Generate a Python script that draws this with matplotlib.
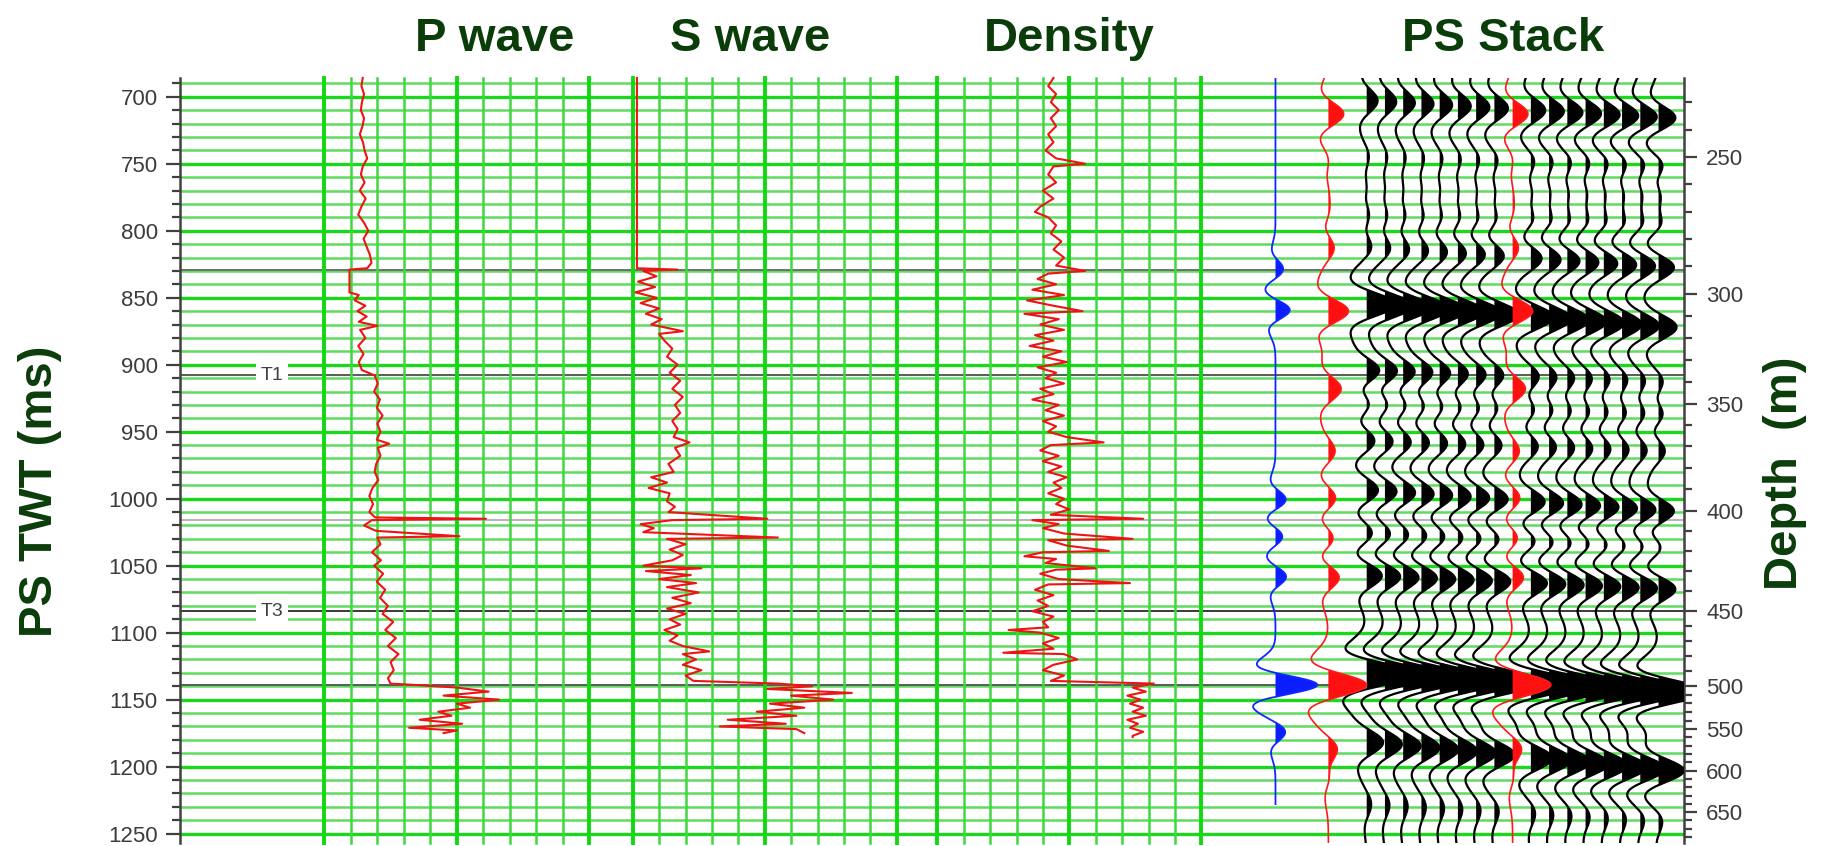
import numpy as np
import matplotlib.pyplot as plt
from matplotlib.ticker import MultipleLocator

plt.rcParams['font.family'] = ['Liberation Sans', 'DejaVu Sans']

# ---- well logs against PS two-way time (ms) ----
p_twt = [686, 692, 698, 704, 710, 716, 722, 728, 734, 740, 746, 752, 758, 764, 770, 776, 782, 788, 794, 800,
         806, 812, 818, 824, 828, 829, 846, 848, 852, 856, 860, 864, 868, 871, 874, 880, 886, 892, 898, 904,
         908, 914, 920, 926, 932, 938, 944, 950, 956, 959, 962, 968, 974, 980, 986, 992, 998, 1004, 1010, 1014,
         1015, 1016, 1020, 1024, 1028, 1029, 1034, 1040, 1046, 1050, 1056, 1062, 1068, 1074, 1080, 1086, 1092,
         1098, 1104, 1110, 1116, 1122, 1128, 1134, 1138, 1139, 1141, 1144, 1147, 1150, 1153, 1156, 1159, 1162,
         1165, 1168, 1171, 1173, 1175]
p_vel = [1725, 1700, 1750, 1710, 1690, 1750, 1720, 1670, 1730, 1760, 1810, 1725, 1690, 1760, 1670, 1780, 1700,
         1640, 1750, 1830, 1740, 1800, 1860, 1890, 1810, 1475, 1475, 1650, 1575, 1775, 1625, 1800, 1650, 2000,
         1675, 1775, 1640, 1740, 1650, 1710, 1950, 2010, 1940, 2050, 1990, 2100, 2000, 2060, 1990, 2225, 2010,
         2060, 1980, 1950, 2020, 1910, 1850, 1920, 1850, 1960, 4050, 1900, 1750, 1975, 3550, 2000, 2060, 1900,
         2070, 1940, 2110, 1990, 2150, 2050, 2200, 2100, 2300, 2150, 2350, 2200, 2400, 2250, 2310, 2200, 2250,
         2700, 3500, 4100, 3250, 4300, 3500, 3750, 3150, 3400, 2800, 3600, 2600, 3500, 3250]

s_twt = [686, 828, 829, 830, 834, 838, 842, 846, 850, 854, 858, 862, 866, 870, 875, 877, 882, 888, 894, 900,
         906, 912, 918, 924, 930, 936, 942, 948, 954, 958, 962, 968, 974, 980, 984, 988, 992, 996, 1002, 1006,
         1010, 1015, 1016, 1019, 1022, 1025, 1029, 1030, 1034, 1038, 1042, 1046, 1050, 1052, 1054, 1057, 1060,
         1063, 1066, 1070, 1074, 1078, 1082, 1086, 1090, 1094, 1098, 1102, 1106, 1110, 1114, 1116, 1120, 1124,
         1128, 1132, 1136, 1138, 1140, 1142, 1145, 1147, 1150, 1153, 1156, 1159, 1162, 1165, 1168, 1170, 1172,
         1175]
s_vel = [40, 40, 425, 100, 225, 50, 212, 25, 225, 75, 250, 125, 275, 175, 475, 250, 300, 375, 325, 425,
         350, 450, 375, 475, 400, 450, 375, 425, 388, 538, 400, 450, 338, 388, 175, 325, 150, 350, 325, 400,
         338, 1275, 375, 75, 200, 100, 1375, 325, 500, 350, 475, 375, 100, 650, 125, 550, 250,
         600, 325, 625, 375, 550, 325, 500, 350, 450, 300, 425, 350, 475, 725, 475, 600, 475,
         650, 500, 575, 1375, 1700, 1275, 2075, 1500, 1900, 1300, 1625, 1175, 1550, 900, 1450, 825, 1550,
         1625]

rho_twt = [686, 692, 698, 704, 710, 716, 722, 728, 734, 740, 746, 750, 752, 758, 764, 770, 776, 782, 786, 790,
           796, 802, 808, 814, 820, 826, 830, 832, 836, 840, 844, 848, 852, 856, 860, 862, 866, 870, 874, 878,
           882, 886, 890, 894, 898, 902, 906, 910, 914, 918, 922, 926, 930, 934, 938, 942, 946, 950, 954, 958,
           960, 964, 968, 972, 976, 980, 984, 988, 992, 996, 1000, 1004, 1008, 1012, 1015, 1016, 1019, 1022,
           1026, 1030, 1031, 1035, 1039, 1040, 1043, 1045, 1048, 1052, 1053, 1056, 1060, 1063, 1064, 1068, 1072,
           1076, 1080, 1084, 1088, 1092, 1096, 1098, 1100, 1104, 1108, 1112, 1115, 1116, 1120, 1124, 1128, 1132,
           1136, 1138, 1141, 1144, 1147, 1150, 1153, 1156, 1159, 1162, 1165, 1168, 1171, 1174, 1177, 1178]
rho = [1.88, 1.84, 1.90, 1.86, 1.92, 1.86, 1.90, 1.84, 1.88, 1.82, 1.90, 2.12, 1.88, 1.84, 1.90, 1.80, 1.88,
       1.78, 1.74, 1.84, 1.90, 1.86, 1.94, 1.88, 1.96, 1.90, 2.12, 1.84, 1.76, 1.90, 1.72, 1.96, 1.68, 1.88,
       2.10, 1.66, 1.92, 1.78, 1.96, 1.74, 1.88, 1.70, 1.94, 1.80, 1.98, 1.76, 1.90, 1.82, 1.96, 1.78, 1.88,
       1.72, 1.92, 1.82, 1.96, 1.80, 1.90, 1.84, 1.98, 2.26, 1.86, 1.78, 1.92, 1.80, 1.94, 1.84, 1.98, 1.88,
       1.94, 1.84, 1.96, 1.90, 2.00, 1.86, 2.56, 1.72, 1.92, 1.80, 1.96, 2.48, 1.84, 1.98, 2.30, 1.80, 1.66,
       1.90, 1.82, 2.20, 1.90, 1.78, 1.92, 2.46, 1.84, 1.74, 1.88, 1.76, 1.84, 1.72, 1.88, 1.80, 1.84, 1.54,
       1.78, 1.92, 1.80, 1.88, 1.50, 1.96, 2.06, 1.88, 1.80, 1.96, 1.86, 2.64, 2.48, 2.58, 2.44, 2.54, 2.46,
       2.56, 2.48, 2.58, 2.44, 2.52, 2.46, 2.56, 2.48, 2.48]

# interpreted horizons
hor_twt = [829, 908, 1016, 1084, 1139]
hor_name = ['', 'T1', '', 'T3', '']
hor_col = ['#6e6e6e', '#5a5a5a', '#b4b4b4', '#3a3a3a', '#5a5a5a']

# depth scale (m) and the PS times it ties to
depth_m = [250, 300, 350, 400, 450, 500, 550, 600, 650]
depth_twt = [745, 847, 929, 1009, 1084, 1140, 1172, 1203, 1234]

# PS stack events: time on first/last trace (ms), peak size in trace widths
ev_t_first = [703, 746, 768, 789, 811, 855, 905, 929, 956, 994, 1026, 1057, 1131, 1182, 1228]
ev_t_last = [716, 752, 774, 794, 827, 872, 914, 937, 963, 1010, 1036, 1067, 1144, 1203, 1240]
ev_amp_first = [0.6, 0.25, 0.3, 0.45, 0.45, 1.6, 0.9, 0.6, 0.6, 0.7, 0.5, 0.9, 2.6, 0.9, 0.25]
ev_amp_last = [0.95, 0.5, 0.55, 0.5, 0.9, 1.0, 0.45, 0.55, 0.5, 1.0, 0.55, 1.0, 2.6, 1.4, 0.25]

# PS synthetic (red) and PP synthetic (blue)
syn_twt = [713, 747, 770, 787, 812, 860, 918, 965, 1000, 1030, 1058, 1139, 1187, 1206]
syn_amp = [0.85, 0.15, 0.2, 0.25, 0.4, 1.1, 0.7, 0.4, 0.5, 0.5, 0.7, 2.1, 0.65, 0.35]
pp_twt = [829, 859, 1001, 1028, 1058, 1139, 1174]
pp_amp = [0.45, 0.8, 0.6, 0.45, 0.6, 2.3, 0.55]

W, H = 1822, 846
T_TOP, T_BOT = 686, 1257
GREEN_DK = '#0b3d0b'
TXT = '#3c3c3c'


def box(x0, x1, y0=78, y1=843):
    return [x0 / W, 1 - y1 / H, (x1 - x0) / W, (y1 - y0) / H]


def ricker(t, f):
    a = (np.pi * f * t / 1000.0) ** 2
    return (1 - 2 * a) * np.exp(-a)


def wiggle(times, amps, f, t0=T_TOP, t1=T_BOT):
    tt = np.arange(t0, t1 + 1, 1.0)
    tr = np.zeros_like(tt)
    for tc, a in zip(times, amps):
        tr += a * ricker(tt - tc, f)
    return tt, tr


fig = plt.figure(figsize=(W / 100, H / 100), dpi=100)

# main axes: time scale, green time lines, horizons
ax = fig.add_axes(box(180, 1684))
ax.set_xlim(0, 1)
ax.set_ylim(T_BOT, T_TOP)
ax.yaxis.set_major_locator(MultipleLocator(50))
ax.yaxis.set_minor_locator(MultipleLocator(10))
ax.grid(axis='y', which='major', color='#1cd81c', lw=2.4)
ax.grid(axis='y', which='minor', color='#5edc5e', lw=1.8)
ax.set_axisbelow(True)
ax.set_xticks([])
for s in ['top', 'bottom', 'right']:
    ax.spines[s].set_visible(False)
ax.spines['left'].set_color('#404040')
ax.spines['left'].set_linewidth(1.8)
ax.tick_params(axis='y', which='major', length=10, width=1.6, color='#404040',
               labelsize=16, labelcolor=TXT, pad=6)
ax.tick_params(axis='y', which='minor', length=6, width=1.6, color='#404040')

for t, name, c in zip(hor_twt, hor_name, hor_col):
    ax.axhline(t, color=c, lw=1.4, zorder=2)
    if name:
        ax.text(0.0612, t, name, transform=ax.get_yaxis_transform(), ha='center', va='center',
                fontsize=14, color='#404040', zorder=3,
                bbox=dict(boxstyle='square,pad=0.25', fc='white', ec='none'))

# depth axis on the right
rax = ax.twinx()
rax.set_ylim(T_BOT, T_TOP)
rax.set_yticks(depth_twt)
rax.set_yticklabels([str(d) for d in depth_m])
slope_top = (depth_twt[1] - depth_twt[0]) / (depth_m[1] - depth_m[0])
slope_bot = (depth_twt[-1] - depth_twt[-2]) / (depth_m[-1] - depth_m[-2])
minor_d = np.array([d for d in range(230, 690, 10) if d not in depth_m], float)
minor_t = np.interp(minor_d, depth_m, depth_twt)
minor_t = np.where(minor_d < depth_m[0], depth_twt[0] + (minor_d - depth_m[0]) * slope_top, minor_t)
minor_t = np.where(minor_d > depth_m[-1], depth_twt[-1] + (minor_d - depth_m[-1]) * slope_bot, minor_t)
minor_t = minor_t[(minor_t > T_TOP) & (minor_t < T_BOT)]
rax.set_yticks(minor_t, minor=True)
for s in ['top', 'bottom', 'left']:
    rax.spines[s].set_visible(False)
rax.spines['right'].set_color('#404040')
rax.spines['right'].set_linewidth(1.8)
rax.tick_params(axis='y', which='major', length=9, width=1.6, color='#404040',
                labelsize=16, labelcolor=TXT, pad=7)
rax.tick_params(axis='y', which='minor', length=6, width=1.6, color='#404040')


def track(x0, x1, lim, step):
    t = fig.add_axes(box(x0, x1), sharey=ax)
    t.set_xlim(lim)
    t.patch.set_visible(False)
    for s in t.spines.values():
        s.set_visible(False)
    t.tick_params(left=False, labelleft=False, bottom=False, labelbottom=False,
                  which='both')
    for i, v in enumerate(np.arange(lim[0], lim[1] + step / 2, step)):
        thick = i % 5 == 0
        t.axvline(v, color='#12d812' if thick else '#3ed83e', lw=2.8 if thick else 1.8,
                  clip_on=False, zorder=1)
    return t


log_kw = dict(color='#ee1414', lw=1.5, zorder=3, clip_on=False)

tp = track(324.3, 589.3, (1000, 6000), 500)
tp.plot(p_vel, p_twt, **log_kw)
ts = track(632.7, 896.7, (0, 2500), 250)
ts.plot(s_vel, s_twt, **log_kw)
td = track(937.3, 1201.3, (1.0, 3.0), 0.2)
td.plot(rho, rho_twt, **log_kw)

# PS stack with synthetics
DX, X0 = 18.24, 1366.7
sx0, sx1 = 1230, 1684
sax = fig.add_axes(box(sx0, sx1), sharey=ax)
sax.set_xlim((sx0 - X0) / DX, (sx1 - X0) / DX)
sax.patch.set_visible(False)
for s in sax.spines.values():
    s.set_visible(False)
sax.tick_params(left=False, labelleft=False, bottom=False, labelbottom=False, which='both')

n_tr = 17
for k in range(n_tr):
    if k == 8:
        continue
    frac = k / (n_tr - 1)
    times = [a + (b - a) * frac for a, b in zip(ev_t_first, ev_t_last)]
    amps = [a + (b - a) * frac for a, b in zip(ev_amp_first, ev_amp_last)]
    tt, tr = wiggle(times, amps, 20)
    sax.fill_betweenx(tt, k, k + tr, where=tr > 0, color='black', lw=0, interpolate=True, zorder=3)
    sax.plot(k + tr, tt, color='black', lw=1.6, zorder=3)

for pos in [-2.1, 8]:
    tt, tr = wiggle(syn_twt, syn_amp, 20)
    sax.fill_betweenx(tt, pos, pos + tr, where=tr > 0, color='#ff1010', lw=0, interpolate=True, zorder=4)
    sax.plot(pos + tr, tt, color='#ff1a1a', lw=1.2, zorder=4)

tt, tr = wiggle(pp_twt, pp_amp, 25, T_TOP, 1228)
sax.fill_betweenx(tt, -5.0, -5.0 + tr, where=tr > 0, color='#0a1eff', lw=0, interpolate=True, zorder=4)
sax.plot(-5.0 + tr, tt, color='#1028ff', lw=1.3, zorder=4)

# titles and axis names
title_kw = dict(ha='center', va='baseline', fontsize=34, fontweight='bold', color=GREEN_DK)
for x, s in [(495, 'P wave'), (750, 'S wave'), (1069, 'Density'), (1503, 'PS Stack')]:
    fig.text(x / W, 1 - 51 / H, s, **title_kw)
fig.text(40 / W, 1 - 491 / H, 'PS TWT (ms)', rotation=90, ha='center', va='center',
         fontsize=34, fontweight='bold', color=GREEN_DK)
fig.text(1785 / W, 1 - 473 / H, 'Depth  (m)', rotation=90, ha='center', va='center',
         fontsize=34, fontweight='bold', color=GREEN_DK)

fig.savefig('out.png', dpi=100)
